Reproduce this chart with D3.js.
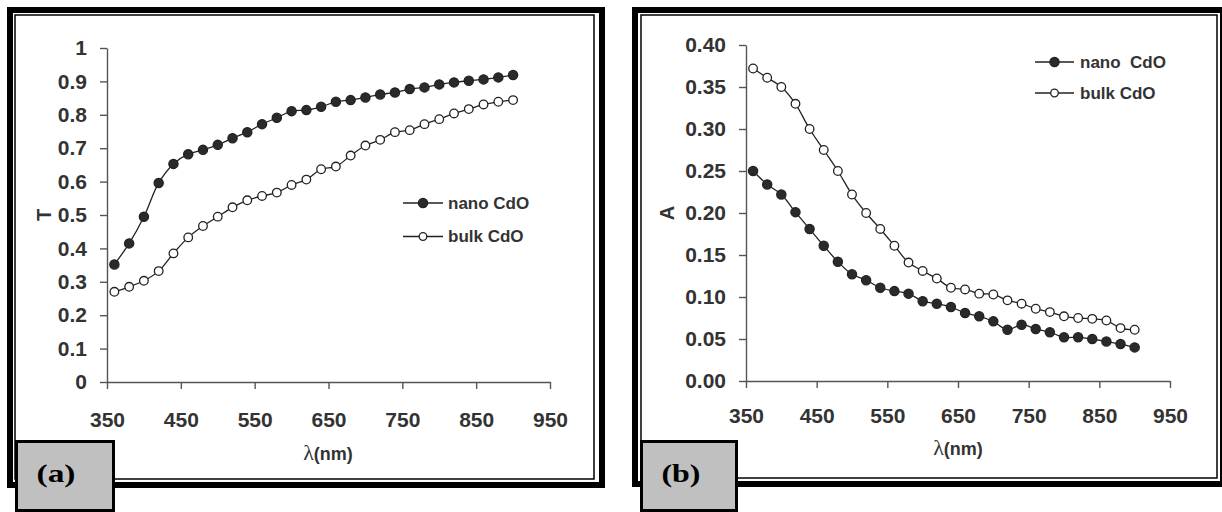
<!DOCTYPE html>
<html>
<head>
<meta charset="utf-8">
<script src="https://cdn.jsdelivr.net/npm/d3@7"></script>
<style>
  body { margin: 0; background: #fff; }
  svg { display: block; }
  text { font-family: "Liberation Sans", Arial, sans-serif; font-weight: bold; fill: #333; }
</style>
</head>
<body>
<svg></svg>
<script>
const WIDTH = 1222;
const HEIGHT = 512;

// wavelength of every measured point (nm)
const wavelengths = [360, 380, 400, 420, 440, 460, 480, 500, 520, 540, 560, 580, 600, 620,
    640, 660, 680, 700, 720, 740, 760, 780, 800, 820, 840, 860, 880, 900];

// (a) transmittance
const tNano = [0.352, 0.415, 0.495, 0.596, 0.653, 0.682, 0.695, 0.710, 0.730, 0.748, 0.772, 0.791, 0.811, 0.814,
    0.824, 0.839, 0.844, 0.852, 0.861, 0.867, 0.877, 0.882, 0.891, 0.897, 0.902, 0.906, 0.912, 0.919];
const tBulk = [0.270, 0.285, 0.303, 0.332, 0.385, 0.433, 0.467, 0.495, 0.523, 0.544, 0.557, 0.567, 0.590, 0.606,
    0.637, 0.645, 0.678, 0.708, 0.725, 0.748, 0.754, 0.772, 0.787, 0.804, 0.817, 0.831, 0.839, 0.844];

// (b) absorbance
const aNano = [0.250, 0.234, 0.222, 0.201, 0.181, 0.161, 0.142, 0.127, 0.120, 0.111, 0.107, 0.104, 0.095, 0.092,
    0.088, 0.081, 0.077, 0.071, 0.061, 0.067, 0.062, 0.058, 0.052, 0.052, 0.050, 0.047, 0.044, 0.040];
const aBulk = [0.372, 0.361, 0.350, 0.330, 0.300, 0.275, 0.250, 0.222, 0.200, 0.181, 0.161, 0.141, 0.131, 0.122,
    0.111, 0.109, 0.104, 0.103, 0.096, 0.092, 0.086, 0.082, 0.077, 0.075, 0.074, 0.072, 0.063, 0.061];

const xTicks = [350, 450, 550, 650, 750, 850, 950];
const tTicks = [0, 0.1, 0.2, 0.3, 0.4, 0.5, 0.6, 0.7, 0.8, 0.9, 1];
const tTickLabels = ["0", "0.1", "0.2", "0.3", "0.4", "0.5", "0.6", "0.7", "0.8", "0.9", "1"];
const aTicks = [0, 0.05, 0.10, 0.15, 0.20, 0.25, 0.30, 0.35, 0.40];
const aTickLabels = ["0.00", "0.05", "0.10", "0.15", "0.20", "0.25", "0.30", "0.35", "0.40"];

const legendA = ["nano CdO", "bulk CdO"];
const legendB = ["nano  CdO", "bulk CdO"];

let svg = d3.select("svg")
    .attr("width", WIDTH)
    .attr("height", HEIGHT);

function drawFrame(p) {
    let g = svg.append("g");
    g.append("rect")
        .attr("x", p.frame[0]).attr("y", p.frame[1])
        .attr("width", p.frame[2]).attr("height", p.frame[3])
        .attr("fill", "#fff")
        .attr("stroke", "#000")
        .attr("stroke-width", 6);
    g.append("rect")
        .attr("x", p.inner[0]).attr("y", p.inner[1])
        .attr("width", p.inner[2]).attr("height", p.inner[3])
        .attr("fill", "none")
        .attr("stroke", "#000")
        .attr("stroke-width", 1.5);
}

function drawBadge(p) {
    svg.append("rect")
        .attr("x", p.box[0]).attr("y", p.box[1])
        .attr("width", p.box[2]).attr("height", p.box[3])
        .attr("fill", "#c0c0c0")
        .attr("stroke", "#000")
        .attr("stroke-width", 3);
    svg.append("text")
        .attr("x", p.box[0] + 20)
        .attr("y", p.box[1] + 40)
        .attr("textLength", 39)
        .attr("lengthAdjust", "spacingAndGlyphs")
        .style("font-family", "'Liberation Serif', 'Times New Roman', serif")
        .style("font-size", "26px")
        .style("fill", "#000")
        .text(p.badge);
}

function drawPlot(p) {
    let x = d3.scaleLinear().domain([350, 950]).range(p.xRange);
    let y = d3.scaleLinear().domain(p.yDomain).range(p.yRange);

    let gx = svg.append("g")
        .attr("transform", `translate(0, ${p.yRange[0]})`)
        .call(d3.axisBottom(x).tickValues(xTicks).tickFormat(d3.format("d"))
            .tickSize(7).tickSizeOuter(0).tickPadding(p.xPad));
    let gy = svg.append("g")
        .attr("transform", `translate(${p.xRange[0]}, 0)`)
        .call(d3.axisLeft(y).tickValues(p.yTicks).tickFormat((d, i) => p.yLabels[i])
            .tickSize(7).tickSizeOuter(0).tickPadding(13));

    [gx, gy].forEach(g => {
        g.selectAll("path, line").attr("stroke", "#555").attr("stroke-width", 1.4);
        g.selectAll("text")
            .style("font-size", "21px")
            .style("font-family", "'Liberation Sans', Arial, sans-serif")
            .style("font-weight", "bold")
            .attr("fill", "#333");
    });

    // axis titles
    svg.append("text")
        .attr("transform", `translate(${p.yTitle[0]}, ${p.yTitle[1]}) rotate(-90)`)
        .attr("text-anchor", "middle")
        .attr("dy", "0.35em")
        .style("font-size", "20px")
        .text(p.yName);

    let xt = svg.append("text")
        .attr("x", p.xTitle[0])
        .attr("y", p.xTitle[1])
        .attr("text-anchor", "middle");
    xt.append("tspan")
        .style("font-family", "'Liberation Serif', 'Times New Roman', serif")
        .style("font-weight", "normal")
        .style("font-size", "22px")
        .text("λ");
    xt.append("tspan")
        .style("font-size", "18px")
        .text("(nm)");

    let line = d3.line()
        .x((d, i) => x(wavelengths[i]))
        .y(d => y(d))
        .curve(d3.curveCatmullRom.alpha(0.5));

    p.series.forEach((s, k) => {
        svg.append("path")
            .attr("d", line(s))
            .attr("fill", "none")
            .attr("stroke", "#222")
            .attr("stroke-width", 1.3);
        svg.append("g").selectAll("circle")
            .data(s)
            .join("circle")
            .attr("cx", (d, i) => x(wavelengths[i]))
            .attr("cy", d => y(d))
            .attr("r", k === 0 ? 4.6 : 4.3)
            .attr("fill", k === 0 ? "#2a2a2a" : "#fff")
            .attr("stroke", "#222")
            .attr("stroke-width", 1.3);
    });

    // legend
    let lg = p.legend;
    p.legendNames.forEach((name, k) => {
        let ly = lg.y + k * lg.dy;
        svg.append("line")
            .attr("x1", lg.x1).attr("x2", lg.x2)
            .attr("y1", ly).attr("y2", ly)
            .attr("stroke", "#222")
            .attr("stroke-width", 1.5);
        svg.append("circle")
            .attr("cx", (lg.x1 + lg.x2) / 2)
            .attr("cy", ly)
            .attr("r", k === 0 ? 4.6 : 3.8)
            .attr("fill", k === 0 ? "#2a2a2a" : "#fff")
            .attr("stroke", "#222")
            .attr("stroke-width", 1.3);
        svg.append("text")
            .attr("x", lg.tx)
            .attr("y", ly)
            .attr("dy", "0.35em")
            .style("font-size", "17px")
            .style("white-space", "pre")
            .text(name);
    });
}

const panels = [
    {
        frame: [10, 10, 592, 475], inner: [15, 15, 579, 464], box: [16.5, 441.5, 97, 69], badge: "(a)",
        xRange: [107, 550], yRange: [382, 48], yDomain: [0, 1], xPad: 23,
        yTicks: tTicks, yLabels: tTickLabels, yName: "T", yTitle: [44, 215], xTitle: [328, 460],
        series: [tNano, tBulk], legendNames: legendA,
        legend: { x1: 403, x2: 443, y: 203, dy: 33.5, tx: 448 }
    },
    {
        frame: [635, 10, 588, 474], inner: [641, 15, 576, 463], box: [641.5, 441.5, 95, 69], badge: "(b)",
        xRange: [746, 1170], yRange: [381, 45], yDomain: [0, 0.4], xPad: 20,
        yTicks: aTicks, yLabels: aTickLabels, yName: "A", yTitle: [667, 213], xTitle: [958, 455],
        series: [aNano, aBulk], legendNames: legendB,
        legend: { x1: 1035, x2: 1074, y: 62, dy: 31, tx: 1080 }
    }
];

panels.forEach(p => drawFrame(p));
panels.forEach(p => drawPlot(p));
panels.forEach(p => drawBadge(p));
</script>
</body>
</html>
